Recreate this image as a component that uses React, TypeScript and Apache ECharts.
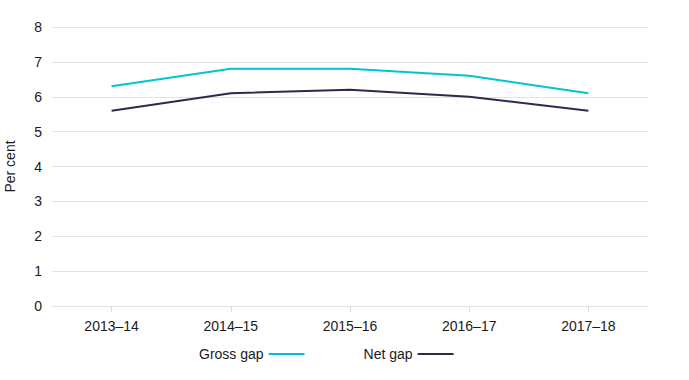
import React, { useEffect, useRef } from "react";
import * as echarts from "echarts";

const categories = ["2013–14", "2014–15", "2015–16", "2016–17", "2017–18"];
const grossGap = [6.3, 6.8, 6.8, 6.6, 6.1];
const netGap = [5.6, 6.1, 6.2, 6.0, 5.6];
const yTicks = { min: 0, max: 8, interval: 1 };

export default function App() {
  const ref = useRef<HTMLDivElement>(null);
  useEffect(() => {
    if (!ref.current) return;
    const chart = echarts.init(ref.current, undefined, { renderer: "svg" });
    const font = "Helvetica, Arial, 'Liberation Sans', sans-serif";
    chart.setOption({
      animation: false,
      textStyle: { fontFamily: font },
      grid: { left: 52, right: 41, top: 27, bottom: 74, containLabel: false, outerBoundsMode: "none" },
      legend: {
        left: 199,
        top: 347,
        padding: 0,
        align: "right",
        icon: "rect",
        itemWidth: 36,
        itemHeight: 2,
        itemGap: 59,
        textStyle: { fontSize: 14, color: "#1a1a1a", fontFamily: font },
        data: ["Gross gap", "Net gap"],
      },
      xAxis: {
        type: "category",
        data: categories,
        boundaryGap: true,
        axisLine: { show: true, lineStyle: { color: "#e3e3e3", width: 1 } },
        axisTick: { show: true, alignWithLabel: true, length: 6, lineStyle: { color: "#dcdcdc" } },
        axisLabel: { fontSize: 14, color: "#1a1a1a", margin: 13, fontFamily: font },
      },
      yAxis: {
        type: "value",
        min: yTicks.min,
        max: yTicks.max,
        interval: yTicks.interval,
        name: "Per cent",
        nameLocation: "middle",
        nameRotate: 90,
        nameGap: 35,
        nameTextStyle: { fontSize: 14, color: "#1a1a1a", fontFamily: font },
        axisLine: { show: false },
        axisTick: { show: false },
        axisLabel: { fontSize: 14, color: "#1a1a1a", margin: 10, fontFamily: font },
        splitLine: { lineStyle: { color: "#e3e3e3", width: 1 } },
      },
      series: [
        {
          name: "Gross gap",
          type: "line",
          data: grossGap,
          showSymbol: false,
          symbol: "none",
          lineStyle: { color: "#00c4d4", width: 2 },
          itemStyle: { color: "#00c4d4" },
        },
        {
          name: "Net gap",
          type: "line",
          data: netGap,
          showSymbol: false,
          symbol: "none",
          lineStyle: { color: "#2a2c4e", width: 2 },
          itemStyle: { color: "#2a2c4e" },
        },
      ],
    });
    return () => chart.dispose();
  }, []);
  return <div ref={ref} style={{ width: 689, height: 380, position: "absolute", left: 0, top: 0 }} />;
}
